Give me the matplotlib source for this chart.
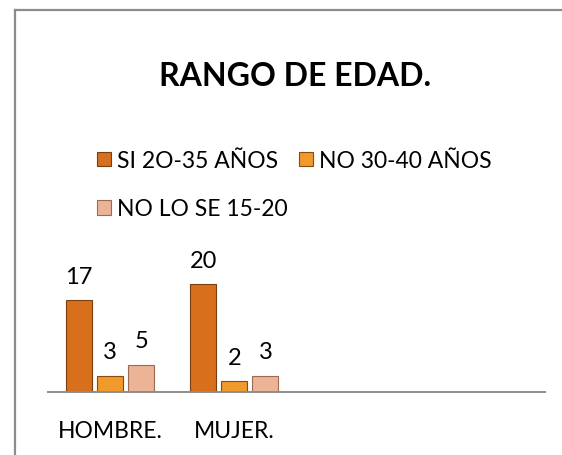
import matplotlib
matplotlib.use("Agg")
import matplotlib.pyplot as plt
import numpy as np
from matplotlib.lines import Line2D

plt.rcParams["font.family"] = ["Lato", "DejaVu Sans"]

# Data
categories = ["HOMBRE.", "MUJER.", "", ""]
series_names = ["SI 2O-35 AÑOS", "NO 30-40 AÑOS", "NO LO SE 15-20"]
si_20_35 = [17, 20]
no_30_40 = [3, 2]
no_lo_se = [5, 3]

colors = ["#D86F1C", "#F09A2C", "#EBB497"]
edges = ["#7A3E12", "#8A4A12", "#9A6A55"]

W, H = 562, 456
fig = plt.figure(figsize=(W / 100, H / 100), dpi=100)

# outer frame (top and left edges only visible)
fig.add_artist(Line2D([15 / W, 1], [1 - 11 / H, 1 - 11 / H], color="#8c8c8c", lw=1.6))
fig.add_artist(Line2D([15 / W, 15 / W], [0, 1 - 11 / H], color="#8c8c8c", lw=1.6))

# plot area
left, right, base, top = 48, 545, 393, 258
ax = fig.add_axes([left / W, 1 - base / H, (right - left) / W, (base - top) / H])
ax.set_xlim(-0.5, 3.5)
ax.set_ylim(0, 25)

x = np.arange(len(si_20_35))
width = 0.21
offs = [-0.25, 0.0, 0.25]
handles = []
for vals, off, c, ec, name in zip([si_20_35, no_30_40, no_lo_se], offs, colors, edges, series_names):
    bars = ax.bar(x + off, vals, width, color=c, edgecolor=ec, linewidth=0.8, label=name)
    handles.append(bars)
    for b, v in zip(bars, vals):
        ax.text(b.get_x() + b.get_width() / 2, v + 2.5, str(v), ha="center", va="bottom",
                fontsize=17, color="black")

for s in ["top", "right", "left"]:
    ax.spines[s].set_visible(False)
ax.spines["bottom"].set_color("#8c8c8c")
ax.spines["bottom"].set_linewidth(1.4)
ax.set_yticks([])
ax.set_xticks(range(len(categories)))
ax.set_xticklabels(categories, fontsize=16.5)
ax.tick_params(axis="x", length=0, pad=20)

fig.text(295 / W, 1 - 76 / H, "RANGO DE EDAD.", ha="center", va="center",
         fontsize=23, fontweight="bold")

leg = fig.legend([handles[0], handles[2], handles[1]],
                 [series_names[0], series_names[2], series_names[1]],
                 ncol=2, loc="upper left", bbox_to_anchor=(97 / W, 1 - 151 / H),
                 frameon=False, fontsize=16.5, handlelength=0.62, handleheight=0.62,
                 handletextpad=0.25, columnspacing=0.5, labelspacing=1.2,
                 borderpad=0, borderaxespad=0)

fig.savefig("out.png", dpi=100)
